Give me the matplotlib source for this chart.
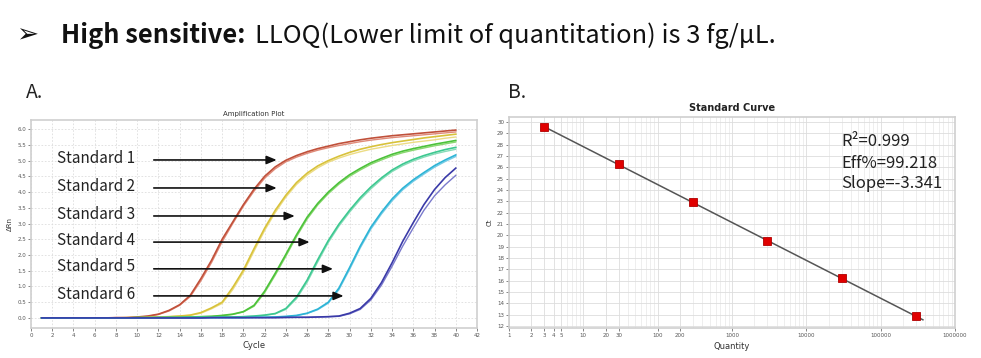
import numpy as np
import matplotlib
matplotlib.use("Agg")
import matplotlib.pyplot as plt
from matplotlib.ticker import FixedLocator, NullFormatter, LogLocator

# ---------------- data ----------------
cycles = list(range(1, 41))

s1a = [0.00,0.00,0.00,0.00,0.00,0.00,0.00,0.01,0.01,0.03,
       0.06,0.12,0.24,0.42,0.72,1.25,1.83,2.50,3.05,3.60,
       4.09,4.50,4.80,5.01,5.16,5.28,5.38,5.46,5.54,5.60,
       5.66,5.71,5.75,5.79,5.82,5.85,5.88,5.91,5.94,5.97]
s1b = [0.00,0.00,0.00,0.00,0.00,0.00,0.00,0.01,0.01,0.02,
       0.05,0.11,0.22,0.40,0.68,1.18,1.76,2.42,3.00,3.55,
       4.03,4.44,4.74,4.96,5.11,5.23,5.33,5.41,5.48,5.54,
       5.60,5.65,5.69,5.73,5.76,5.79,5.82,5.85,5.88,5.91]
s2a = [0.00,0.00,0.00,0.00,0.00,0.00,0.00,0.00,0.01,0.01,
       0.02,0.03,0.04,0.06,0.09,0.17,0.32,0.50,0.97,1.52,
       2.20,2.85,3.42,3.90,4.30,4.60,4.83,5.00,5.14,5.26,
       5.36,5.44,5.51,5.57,5.62,5.67,5.72,5.76,5.80,5.84]
s2b = [0.00,0.00,0.00,0.00,0.00,0.00,0.00,0.00,0.01,0.01,
       0.02,0.03,0.04,0.06,0.08,0.15,0.29,0.46,0.90,1.45,
       2.12,2.78,3.35,3.84,4.24,4.54,4.77,4.95,5.08,5.19,
       5.28,5.36,5.42,5.48,5.53,5.58,5.62,5.66,5.71,5.75]
s3a = [0.00,0.00,0.00,0.00,0.00,0.00,0.00,0.00,0.00,0.01,
       0.01,0.01,0.02,0.02,0.03,0.04,0.05,0.08,0.12,0.20,
       0.40,0.85,1.42,2.02,2.64,3.20,3.64,4.00,4.30,4.55,
       4.75,4.93,5.07,5.20,5.30,5.38,5.45,5.52,5.58,5.64]
s3b = [0.00,0.00,0.00,0.00,0.00,0.00,0.00,0.00,0.00,0.01,
       0.01,0.01,0.01,0.02,0.03,0.04,0.05,0.07,0.11,0.19,
       0.37,0.80,1.36,1.96,2.58,3.14,3.59,3.95,4.25,4.50,
       4.70,4.88,5.02,5.15,5.25,5.33,5.40,5.47,5.53,5.59]
s4a = [0.00,0.00,0.00,0.00,0.00,0.00,0.00,0.00,0.00,0.01,
       0.01,0.01,0.01,0.01,0.02,0.02,0.02,0.03,0.03,0.04,
       0.06,0.09,0.14,0.30,0.66,1.20,1.85,2.46,2.98,3.42,
       3.82,4.16,4.45,4.70,4.89,5.04,5.16,5.26,5.35,5.42]
s4b = [0.00,0.00,0.00,0.00,0.00,0.00,0.00,0.00,0.00,0.01,
       0.01,0.01,0.01,0.01,0.02,0.02,0.02,0.03,0.03,0.04,
       0.05,0.08,0.13,0.27,0.61,1.13,1.78,2.40,2.92,3.36,
       3.76,4.10,4.40,4.65,4.84,4.99,5.11,5.21,5.29,5.36]
s5a = [0.00,0.00,0.00,0.00,0.00,0.00,0.00,0.00,0.00,0.00,
       0.00,0.01,0.01,0.01,0.01,0.01,0.01,0.01,0.01,0.01,
       0.02,0.02,0.03,0.05,0.08,0.15,0.28,0.50,0.95,1.60,
       2.28,2.88,3.36,3.78,4.12,4.39,4.62,4.84,5.02,5.18]
s5b = [0.00,0.00,0.00,0.00,0.00,0.00,0.00,0.00,0.00,0.00,
       0.00,0.01,0.01,0.01,0.01,0.01,0.01,0.01,0.01,0.01,
       0.02,0.02,0.03,0.04,0.07,0.14,0.26,0.47,0.90,1.54,
       2.22,2.82,3.30,3.72,4.07,4.34,4.57,4.79,4.97,5.13]
s6a = [0.00,0.00,0.00,0.00,0.00,0.00,0.00,0.00,0.00,0.00,
       0.00,0.00,0.00,0.00,0.00,0.00,0.01,0.01,0.01,0.01,
       0.01,0.01,0.01,0.02,0.02,0.02,0.03,0.04,0.06,0.15,
       0.30,0.62,1.12,1.75,2.43,3.03,3.60,4.08,4.46,4.76]
s6b = [0.00,0.00,0.00,0.00,0.00,0.00,0.00,0.00,0.00,0.00,
       0.00,0.00,0.00,0.00,0.00,0.00,0.01,0.01,0.01,0.01,
       0.01,0.01,0.01,0.01,0.02,0.02,0.03,0.04,0.05,0.13,
       0.27,0.57,1.04,1.64,2.28,2.86,3.42,3.88,4.23,4.53]

standard_labels = ["Standard 1", "Standard 2", "Standard 3",
                   "Standard 4", "Standard 5", "Standard 6"]
replicates = [(s1a, s1b), (s2a, s2b), (s3a, s3b),
              (s4a, s4b), (s5a, s5b), (s6a, s6b)]

quantity = [3, 30, 300, 3000, 30000, 300000]
ct_values = [29.55, 26.25, 22.9, 19.5, 16.2, 12.85]
fit_range = [3, 370000]
stats_text = ["R²=0.999", "Eff%=99.218", "Slope=-3.341"]

amp_xticks = list(range(0, 43, 2))
amp_yticks = [0.0, 0.5, 1.0, 1.5, 2.0, 2.5, 3.0, 3.5, 4.0, 4.5, 5.0, 5.5, 6.0]
std_yticks = list(range(12, 31))
std_xticks = [1, 2, 3, 4, 5, 10, 20, 30, 100, 200, 1000, 10000, 100000, 1000000]

# ---------------- style ----------------
W, H = 981, 358
fig = plt.figure(figsize=(W / 100, H / 100), dpi=100)
FONT = ["Noto Sans CJK SC", "DejaVu Sans"]

def fx(px):
    return px / W

def fy(py):
    return 1 - py / H

colors = [("#c0503a", "#e08a78"),
          ("#d8c23a", "#ecdc84"),
          ("#4cc23a", "#8ad870"),
          ("#3cc890", "#86dcb8"),
          ("#2cb4d6", "#78cce6"),
          ("#3a3aa8", "#7a7acc")]

# header
fig.text(fx(16), fy(42), "➢", fontsize=19, family=["DejaVu Sans"], fontweight="bold",
         va="baseline", ha="left", color="#111111")
fig.text(fx(61), fy(43), "High sensitive:", fontsize=18.3, family=FONT, fontweight="bold",
         va="baseline", ha="left", color="#111111")
fig.text(fx(255), fy(43), "LLOQ(Lower limit of quantitation) is 3 fg/μL.", fontsize=18.3,
         family=FONT, fontweight="light", va="baseline", ha="left", color="#111111")
fig.text(fx(26), fy(92), "A.", fontsize=14, family=FONT, fontweight="light", va="center", ha="left", color="#222222")
fig.text(fx(508), fy(92), "B.", fontsize=14, family=FONT, fontweight="light", va="center", ha="left", color="#222222")

# ---------------- A: amplification plot ----------------
axA = fig.add_axes([fx(31), fy(328), fx(477) - fx(31), fy(120) - fy(328)])
for (ra, rb), (c1, c2) in zip(replicates, colors):
    axA.plot(cycles, rb, color=c2, lw=1.0, zorder=2, solid_joinstyle="round")
    axA.plot(cycles, ra, color=c1, lw=1.2, zorder=3, solid_joinstyle="round")
axA.set_xlim(0, 42)
axA.set_ylim(-0.32, 6.29)
axA.set_xticks(amp_xticks)
axA.set_yticks(amp_yticks)
axA.set_yticklabels([f"{v:.1f}" for v in amp_yticks])
axA.tick_params(labelsize=4, length=2, width=0.5, colors="#555555", pad=1.5)
axA.grid(True, color="#dddddd", lw=0.6, ls=(0, (2, 2)))
for s in axA.spines.values():
    s.set_color("#cfcfcf")
    s.set_linewidth(1.2)
axA.set_xlabel("Cycle", fontsize=6, labelpad=2, color="#333333")
axA.set_ylabel("ΔRn", fontsize=5, labelpad=3, color="#333333")
axA.set_title("Amplification Plot", fontsize=5, pad=3, color="#333333")

arrow_rows = [(5.02, 23.4), (4.13, 23.4), (3.24, 25.1), (2.41, 26.5), (1.56, 28.7), (0.70, 29.7)]
for lab, (yv, xe) in zip(standard_labels, arrow_rows):
    axA.text(2.45, yv + 0.06, lab, fontsize=11, family=FONT, va="center", ha="left", color="#222222")
    axA.annotate("", xy=(xe, yv), xytext=(11.3, yv),
                 arrowprops=dict(arrowstyle="-|>,head_length=0.6,head_width=0.25",
                                 color="#111111", lw=1.2))

# ---------------- B: standard curve ----------------
axB = fig.add_axes([fx(509), fy(328), fx(955) - fx(509), fy(117) - fy(328)])
axB.set_xscale("log")
slope, intercept = np.polyfit(np.log10(quantity), ct_values, 1)
fx_line = np.array(fit_range, dtype=float)
axB.plot(fx_line, slope * np.log10(fx_line) + intercept, color="#555555", lw=1.1, zorder=2)
axB.plot(quantity, ct_values, ls="none", marker="s", ms=6, mfc="#e00000", mec="#b00000",
         mew=0.6, zorder=3)
axB.set_xlim(1, 1e6)
axB.set_ylim(11.82, 30.44)
axB.set_yticks(std_yticks)
axB.xaxis.set_major_locator(FixedLocator(std_xticks))
axB.set_xticklabels([str(v) for v in std_xticks])
axB.xaxis.set_minor_locator(LogLocator(base=10, subs=np.arange(2, 10)))
axB.xaxis.set_minor_formatter(NullFormatter())
axB.tick_params(which="both", labelsize=4, length=2, width=0.5, colors="#555555", pad=1.5)
axB.tick_params(which="minor", length=0)
axB.grid(True, which="major", color="#dddddd", lw=0.6)
axB.grid(True, which="minor", axis="x", color="#e8e8e8", lw=0.5)
for s in axB.spines.values():
    s.set_color("#cfcfcf")
    s.set_linewidth(1.2)
axB.set_xlabel("Quantity", fontsize=6, labelpad=3, color="#333333")
axB.set_ylabel("Ct", fontsize=5, labelpad=3, color="#333333")
axB.set_title("Standard Curve", fontsize=7, fontweight="bold", pad=4, color="#222222")
for i, t in enumerate(stats_text):
    fig.text(fx(841), fy(142 + 21 * i), t, fontsize=12, family=FONT, fontweight="light",
             va="center", ha="left", color="#222222")

fig.savefig("out.png", dpi=100, facecolor="white")
